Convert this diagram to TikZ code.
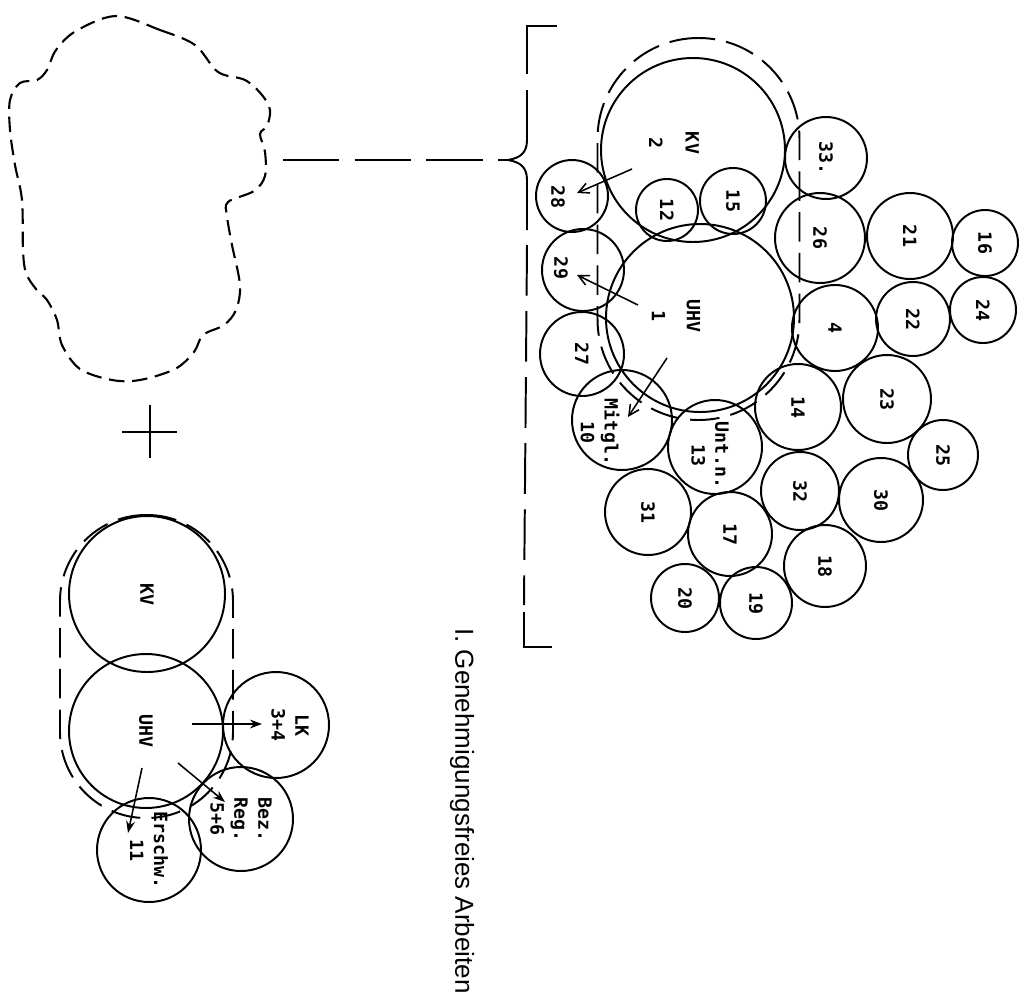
\documentclass[tikz,border=0pt]{standalone}
\usepackage{fontspec}
\setmainfont{Liberation Sans}
\newfontfamily\plotfont{DejaVu Sans Mono}
\usetikzlibrary{arrows.meta}

\tikzset{
  ring/.style={circle,draw,line width=1.4pt,inner sep=0pt,rotate=-90,
    font=\plotfont\bfseries\fontsize{13}{17}\selectfont,align=center},
  txt/.style={rotate=-90,inner sep=0pt,font=\plotfont\bfseries\fontsize{13}{17}\selectfont,align=center},
  capsule/.style={draw,line width=1.4pt,dash pattern=on 21pt off 8pt},
  cloudline/.style={line width=1.5pt,dash pattern=on 11pt off 5.5pt},
  longdash/.style={line width=1.4pt,dash pattern=on 40pt off 11pt},
  barb/.style={line width=1.1pt,-{Straight Barb[length=2.6mm,width=2.6mm]}},
  fill tip/.style={line width=1.1pt,-{Stealth[length=3mm,width=2.2mm]}}
}

\begin{document}
\begin{tikzpicture}[x=0.25mm,y=-0.25mm]
\useasboundingbox (0,0) rectangle (1021,1005);

% Wolke links oben
\draw [cloudline] plot [smooth cycle,tension=0.55] coordinates {
  (116,16) (160,30) (195,45) (218,72) (245,80) (262,95) (270,110)
  (267,126) (260,134) (265,152) (265,176) (254,191) (228,202)
  (227,216) (232,245) (240,285) (236,310) (224,325) (203,335)
  (194,352) (175,369) (140,380) (112,380) (80,369) (62,345)
  (57,320) (47,300) (36,289) (26,273) (23,250) (22,200) (15,165)
  (10,130) (10,100) (20,83) (37,80) (47,70) (56,50) (76,31)};

% Plus
\draw [line width=1.6pt] (150,405) -- (150,458) (122,432) -- (177,432);

% Klammer
\coordinate (cl) at (283,160);
\coordinate (br) at (508,160);
\draw [longdash] (cl) -- (br);
\draw [line width=1.4pt] (557,26) -- (527,26) -- (527,74);
\draw [line width=1.4pt] (527,90) -- (527,140)
  .. controls (527,153) and (520,158) .. (br)
  .. controls (520,162) and (527,167) .. (527,180) -- (527,230);
\draw [line width=1.4pt,dash pattern=on 36pt off 11pt] (527,245) -- (524,605);
\draw [line width=1.4pt] (524,612) -- (524,647) -- (552,647);

% Gruppe rechts
\node (grp) [capsule,minimum width=50.5mm,minimum height=95.5mm,rounded corners=25.2mm] at (698.5,229) {};
\node (n2) [ring,minimum size=46mm] at (693,150) {};
\node (n1) [ring,minimum size=47mm] at (700,318) {};
\node (n28) [ring,minimum size=18mm] at (572,196) {};
\node (n29) [ring,minimum size=20.5mm] at (583,270) {};
\node (n12) [ring,minimum size=15.5mm] at (667,210) {12};
\node (n15) [ring,minimum size=16.5mm] at (733,201) {15};
\node (n33) [ring,minimum size=20.5mm] at (826,158) {33.};
\node (n26) [ring,minimum size=22.5mm] at (820,238) {26};
\node (n21) [ring,minimum size=21.5mm] at (910,236) {21};
\node (n16) [ring,minimum size=16.5mm] at (985,243) {16};
\node (n24) [ring,minimum size=16.5mm] at (983,310) {24};
\node (n22) [ring,minimum size=18.5mm] at (913,319) {22};
\node (n4) [ring,minimum size=21.5mm] at (835,328) {4};
\node (n23) [ring,minimum size=22mm] at (887,399) {23};
\node (n14) [ring,minimum size=21.5mm] at (798,407) {14};
\node (n25) [ring,minimum size=17.5mm] at (943,455) {25};
\node (n13) [ring,minimum size=23.5mm] at (715,447) {};
\node (n32) [ring,minimum size=19.5mm] at (800,491) {32};
\node (n30) [ring,minimum size=21mm] at (881,500) {30};
\node (n31) [ring,minimum size=21.5mm] at (648,512) {31};
\node (n17) [ring,minimum size=21mm] at (730,534) {17};
\node (n18) [ring,minimum size=20.5mm] at (825,566) {18};
\node (n20) [ring,minimum size=17mm] at (685,598) {20};
\node (n19) [ring,minimum size=18mm] at (756,603) {19};
\node (n10) [ring,minimum size=25mm] at (622,420) {};
\node (n27) [ring,minimum size=21mm] at (582,354) {27};

\node (t2) [txt] at (674,143) {KV\\[9pt]2};
\node (t1) [txt] at (676,316) {UHV\\[8pt]1};
\node (t28) [txt] at (558,197) {28};
\node (t29) [txt] at (561,268) {29};
\node (t10) [txt] at (600,432) {Mitgl.\\10};
\node (t13) [txt] at (710,455) {Unt.n.\\13};

\coordinate (s28) at (632,169);
\coordinate (e28) at (577,193);
\coordinate (s29) at (638,305);
\coordinate (e29) at (577,275);
\coordinate (s10) at (667,358);
\coordinate (e10) at (628,417);
\draw [barb] (s28) -- (e28);
\draw [barb] (s29) -- (e29);
\draw [barb] (s10) -- (e10);

% Gruppe links unten
\node (lgrp) [capsule,minimum width=43.25mm,minimum height=75.75mm,rounded corners=21.5mm] at (146.5,666.5) {};
\node (kv) [ring,minimum size=39mm] at (147,594) {KV};
\node (uhv) [ring,minimum size=38.5mm] at (146,731) {UHV};
\node (lk) [ring,minimum size=26.5mm] at (276,725) {};
\node (bez) [ring,minimum size=26mm] at (241,819) {Bez.\\Reg.\\5+6};
\node (ers) [ring,minimum size=26mm] at (149,850) {Erschw.\\11};
\node (tlk) [txt] at (290,725) {LK\\3+4};

\coordinate (slk) at (192,724);
\coordinate (elk) at (262,724);
\coordinate (sbez) at (178,763);
\coordinate (ebez) at (225,802);
\coordinate (sers) at (142,768);
\coordinate (eers) at (128,833);
\draw [fill tip] (slk) -- (elk);
\draw [fill tip] (sbez) -- (ebez);
\draw [fill tip] (sers) -- (eers);

\node (title) [rotate=-90,font=\fontsize{18.5}{22}\selectfont] at (462,811) {I. Genehmigungsfreies Arbeiten};
\end{tikzpicture}
\end{document}
